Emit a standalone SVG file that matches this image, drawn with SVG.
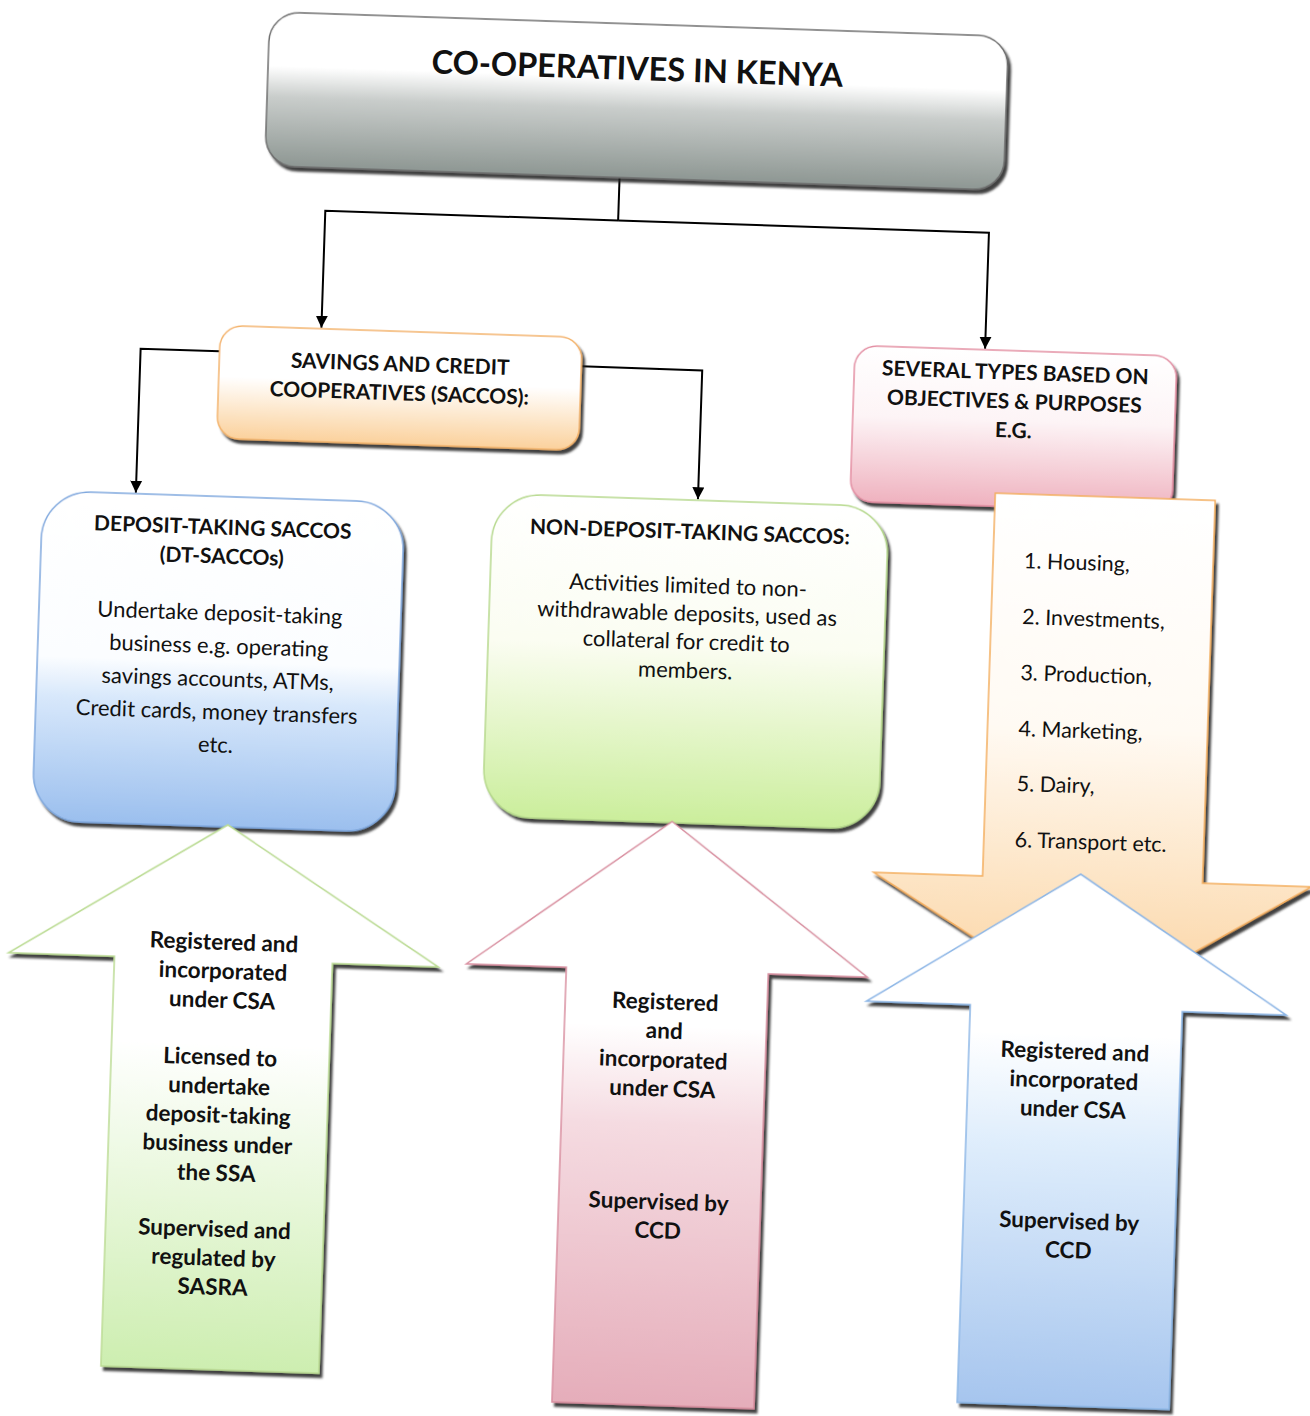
<svg xmlns="http://www.w3.org/2000/svg" width="1310" height="1416" viewBox="0 0 1310 1416">
<defs>
<style>
text{font-family:Lato,"Open Sans","Liberation Sans",sans-serif;fill:#111;}
.t{font-size:32.5px;font-weight:bold;text-anchor:middle;}
.h{font-size:21px;font-weight:bold;text-anchor:middle;}
.b{font-size:22px;text-anchor:middle;}
.a{font-size:22.5px;font-weight:bold;text-anchor:middle;}
.l{font-size:21.5px;}
.conn{fill:none;stroke:#000;stroke-width:2;}
.shape{filter:url(#sh);}
</style>
<filter id="sh" x="-5%" y="-5%" width="115%" height="115%">
<feDropShadow dx="3" dy="4" stdDeviation="1.2" flood-color="#1a1a1a" flood-opacity="0.85"/>
</filter>
<marker id="ah" viewBox="0 0 10 10" refX="10" refY="5" markerWidth="12" markerHeight="13" markerUnits="userSpaceOnUse" orient="auto">
<path d="M0,0 L10,5 L0,10 z" fill="#000"/>
</marker>
<linearGradient id="gTitle" x1="0" y1="0" x2="0" y2="1"><stop offset="0" stop-color="#fff"/><stop offset="0.35" stop-color="#fff"/><stop offset="0.55" stop-color="#c9cdcb"/><stop offset="1" stop-color="#8e9793"/></linearGradient>
<linearGradient id="gSac" x1="0" y1="0" x2="0" y2="1"><stop offset="0" stop-color="#fff"/><stop offset="0.45" stop-color="#fff"/><stop offset="1" stop-color="#fbd19c"/></linearGradient>
<linearGradient id="gPinkBox" x1="0" y1="0" x2="0" y2="1"><stop offset="0" stop-color="#fff"/><stop offset="0.45" stop-color="#fdf4f6"/><stop offset="1" stop-color="#efb2bf"/></linearGradient>
<linearGradient id="gDT" x1="0" y1="0" x2="0" y2="1"><stop offset="0" stop-color="#fff"/><stop offset="0.5" stop-color="#fbfdff"/><stop offset="0.62" stop-color="#d8e8fb"/><stop offset="1" stop-color="#9bbfee"/></linearGradient>
<linearGradient id="gNDT" x1="0" y1="0" x2="0" y2="1"><stop offset="0" stop-color="#fff"/><stop offset="0.45" stop-color="#fbfdf2"/><stop offset="1" stop-color="#cbee9c"/></linearGradient>
<linearGradient id="gOr" x1="0" y1="0" x2="0" y2="1"><stop offset="0" stop-color="#fff"/><stop offset="0.45" stop-color="#fffaf3"/><stop offset="1" stop-color="#fbd29e"/></linearGradient>
<linearGradient id="gGr" x1="0" y1="0" x2="0" y2="1"><stop offset="0" stop-color="#fff"/><stop offset="0.4" stop-color="#fff"/><stop offset="1" stop-color="#cdeeb0"/></linearGradient>
<linearGradient id="gPk" x1="0" y1="0" x2="0" y2="1"><stop offset="0" stop-color="#fff"/><stop offset="0.35" stop-color="#fff"/><stop offset="0.52" stop-color="#f5dbe1"/><stop offset="1" stop-color="#e5adba"/></linearGradient>
<linearGradient id="gBl" x1="0" y1="0" x2="0" y2="1"><stop offset="0" stop-color="#fff"/><stop offset="0.3" stop-color="#fff"/><stop offset="0.5" stop-color="#e0eefc"/><stop offset="1" stop-color="#a6c5ee"/></linearGradient>
</defs>
<rect width="1310" height="1416" fill="#fff"/>
<g transform="rotate(1.9 655 708)">
<g id="connectors">
<path class="conn" d="M602,179 V222"/>
<path class="conn" d="M602,222 H309 V339" marker-end="url(#ah)"/>
<path class="conn" d="M602,222 H973 V338" marker-end="url(#ah)"/>
<path class="conn" d="M208,366 H129 V510" marker-end="url(#ah)"/>
<path class="conn" d="M570,369 H691 V498" marker-end="url(#ah)"/>
</g>
<g id="title">
<rect class="shape" x="247" y="25" width="739" height="154" rx="30" fill="url(#gTitle)" stroke="#6d6d6d" stroke-width="1.5"/>
<text class="t" x="616" y="81">CO-OPERATIVES IN KENYA</text>
</g>
<g id="saccos">
<rect class="shape" x="208" y="340" width="362" height="113" rx="22" fill="url(#gSac)" stroke="#f4b46c" stroke-width="1.5"/>
<text class="h" x="389" y="380">SAVINGS AND CREDIT</text>
<text class="h" x="389" y="409">COOPERATIVES (SACCOS):</text>
</g>
<g id="dt-saccos">
<rect class="shape" x="36" y="511" width="362" height="330" rx="48" fill="url(#gDT)" stroke="#7fa8de" stroke-width="1.5"/>
<text class="h" x="217" y="549">DEPOSIT-TAKING SACCOS</text>
<text class="h" x="217" y="578">(DT-SACCOs)</text>
<text class="b" x="217" y="635">Undertake deposit-taking</text>
<text class="b" x="217" y="668">business e.g. operating</text>
<text class="b" x="217" y="701">savings accounts, ATMs,</text>
<text class="b" x="217" y="734">Credit cards, money transfers</text>
<text class="b" x="217" y="767">etc.</text>
</g>
<g id="ndt-saccos">
<rect class="shape" x="486" y="499" width="396" height="323" rx="48" fill="url(#gNDT)" stroke="#b6d98c" stroke-width="1.5"/>
<text class="h" x="684" y="538">NON-DEPOSIT-TAKING SACCOS:</text>
<text class="b" x="684" y="592">Activities limited to non-</text>
<text class="b" x="684" y="620">withdrawable deposits, used as</text>
<text class="b" x="684" y="648">collateral for credit to</text>
<text class="b" x="684" y="677">members.</text>
</g>
<g id="several-types">
<rect class="shape" x="843" y="339" width="322" height="156" rx="22" fill="url(#gPinkBox)" stroke="#e38ea3" stroke-width="1.5"/>
<text class="h" x="1004" y="368">SEVERAL TYPES BASED ON</text>
<text class="h" x="1004" y="397">OBJECTIVES &amp; PURPOSES</text>
<text class="h" x="1004" y="426">E.G.</text>
</g>
<g id="types-list">
<polygon class="shape" points="988,482 1208,482 1208,865 1317,865 1098,997 879,865 988,865" fill="url(#gOr)" stroke="#f4ae5e" stroke-width="1.5"/>
<text class="l" x="1019" y="556">1. Housing,</text>
<text class="l" x="1019" y="612">2. Investments,</text>
<text class="l" x="1019" y="668">3. Production,</text>
<text class="l" x="1019" y="724">4. Marketing,</text>
<text class="l" x="1019" y="779">5. Dairy,</text>
<text class="l" x="1019" y="835">6. Transport etc.</text>
</g>
<g id="dt-regulation">
<polygon class="shape" points="232,839 447,974 341,974 341,1384 123,1384 123,974 17,974" fill="url(#gGr)" stroke="#bcdc94" stroke-width="1.5"/>
<text class="a" x="232" y="964">Registered and</text>
<text class="a" x="232" y="993">incorporated</text>
<text class="a" x="232" y="1022">under CSA</text>
<text class="a" x="232" y="1079">Licensed to</text>
<text class="a" x="232" y="1108">undertake</text>
<text class="a" x="232" y="1137">deposit-taking</text>
<text class="a" x="232" y="1166">business under</text>
<text class="a" x="232" y="1195">the SSA</text>
<text class="a" x="232" y="1251">Supervised and</text>
<text class="a" x="232" y="1280">regulated by</text>
<text class="a" x="232" y="1309">SASRA</text>
</g>
<g id="ndt-regulation">
<polygon class="shape" points="676,821 876,970 777,970 777,1405 575,1405 575,970 475,970" fill="url(#gPk)" stroke="#d98fa0" stroke-width="1.5"/>
<text class="a" x="675" y="1009">Registered</text>
<text class="a" x="675" y="1038">and</text>
<text class="a" x="675" y="1067">incorporated</text>
<text class="a" x="675" y="1096">under CSA</text>
<text class="a" x="675" y="1209">Supervised by</text>
<text class="a" x="675" y="1238">CCD</text>
</g>
<g id="types-regulation">
<polygon class="shape" points="1086,860 1296,994 1192,994 1192,1392 980,1392 980,994 876,994" fill="url(#gBl)" stroke="#8cb6e6" stroke-width="1.5"/>
<text class="a" x="1086" y="1045">Registered and</text>
<text class="a" x="1086" y="1074">incorporated</text>
<text class="a" x="1086" y="1103">under CSA</text>
<text class="a" x="1086" y="1215">Supervised by</text>
<text class="a" x="1086" y="1244">CCD</text>
</g>
</g>
</svg>
